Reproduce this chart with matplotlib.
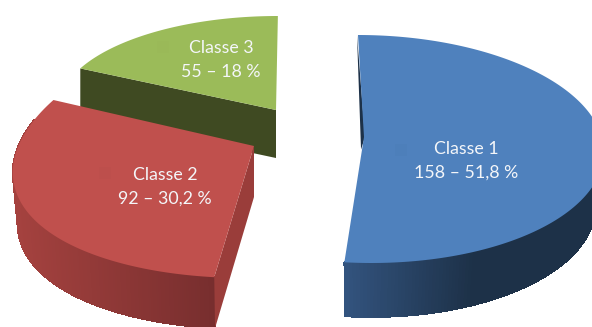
import numpy as np
import matplotlib
matplotlib.use("Agg")
import matplotlib.pyplot as plt
from matplotlib.collections import PolyCollection
from matplotlib.colors import to_rgb

# Pie data
classes = ["Classe 1", "Classe 2", "Classe 3"]
counts = [158, 92, 55]
percent_labels = ["51,8", "30,2", "18"]

# Projection of each exploded slice, in canvas pixels
apex_x = [364, 254, 276]
apex_y = [137, 146, 110]
half_width = [239, 236, 217]
half_height = [114, 125, 91]
centre_drop = [12, 7, -3]
shear = [0.059, -0.073, -0.02]
near_scale = [0.0, 0.1, 0.0]
wall_depth = [54, 51, 48]
wall_shrink = [0.035, 0.02, 0.0]

top_colors = ["#4f81bd", "#c0504d", "#9bbb59"]
wall_left = ["#33547f", "#a5423f", "#3f4a22"]
wall_right = ["#1d3148", "#772e2e", "#3f4a22"]
face_colors = ["#1d3148", "#9a3d3a", "#3f4a22"]
label_x = [466, 165, 221]
label_y = [161, 187, 60]
key_x = [401, 105, 163]
key_y = [150, 173, 47]
key_colors = ["#4d7fba", "#bd4f4c", "#9ab958"]


def project(i, theta):
    """Map clockwise pie angles (degrees from 12 o'clock) to canvas pixels."""
    t = np.radians(theta)
    dy = -half_height[i] * np.cos(t) + centre_drop[i]
    dx = half_width[i] * np.sin(t) * (1 + near_scale[i] * dy / 100) + shear[i] * dy
    return apex_x[i] + dx, apex_y[i] + dy


def lower(i, x, y):
    """Drop a top-surface point to the base of the slice."""
    return apex_x[i] + (x - apex_x[i]) * (1 - wall_shrink[i]), y + wall_depth[i]


fig = plt.figure(figsize=(5.92, 3.27), dpi=100)
ax = fig.add_axes([0, 0, 1, 1])
ax.set_xlim(0, 592)
ax.set_ylim(327, 0)
ax.axis("off")
plt.rcParams["font.family"] = ["Lato", "DejaVu Sans"]

fractions = np.array(counts) / sum(counts) * 360
starts = np.concatenate([[0], np.cumsum(fractions)[:-1]])

# Back slices first so that nearer ones overlap them
for order, i in enumerate([2, 1, 0]):
    theta = np.linspace(starts[i], starts[i] + fractions[i], 220)
    x, y = project(i, theta)
    lx, ly = lower(i, x, y)
    z = 2 + order * 3
    ax0, ay0 = apex_x[i], apex_y[i]

    # Curved outer wall on the camera-facing part of the rim, shaded along its width
    quads, shades = [], []
    xspan = (x.min(), min(x.max(), 592))
    c0, c1 = np.array(to_rgb(wall_left[i])), np.array(to_rgb(wall_right[i]))
    for k in range(len(theta) - 1):
        if not 85 < theta[k] < 285:
            continue
        quads.append([(x[k], y[k]), (x[k + 1], y[k + 1]),
                      (lx[k + 1], ly[k + 1]), (lx[k], ly[k])])
        if i == 0:
            f = np.clip((xspan[0] + 130 - x[k]) / 130, 0, 1)
            shades.append(c1 + (c0 - c1) * f)
        else:
            f = np.clip((x[k] - xspan[0]) / (xspan[1] - xspan[0]), 0, 1)
            shades.append(c0 + (c1 - c0) * f)
    if quads:
        ax.add_collection(PolyCollection(quads, facecolors=shades, edgecolors=shades,
                                         linewidths=0.6, antialiaseds=False, zorder=z))

    # Visible cut face: a thin sliver for the front slice, a full flat side otherwise
    if i == 0:
        nx = ax0 + 0.1 * (x[-1] - ax0)
        ny = ay0 + 0.1 * (y[-1] - ay0)
        ax.fill([x[0] - 1, ax0 + 1, nx - 1], [y[0], ay0, ny], color=face_colors[i],
                lw=0, zorder=z + 1)
    else:
        fx, fy = lower(i, x[0], y[0])
        lax, lay = lower(i, ax0, ay0)
        ax.fill([ax0, x[0], fx, lax], [ay0, y[0], fy, lay], color=face_colors[i],
                lw=0, zorder=z + 1)

    # Top surface
    ax.fill(np.r_[ax0, x], np.r_[ay0, y], color=top_colors[i], lw=0, zorder=z + 2)

    # Faint key square and the label
    ax.plot(key_x[i], key_y[i], marker="s", ms=8, color=key_colors[i], mew=0, zorder=z + 2)
    ax.text(label_x[i], label_y[i], f"{classes[i]}\n{counts[i]} – {percent_labels[i]} %",
            color="#f4f6f9", fontsize=12.8, ha="center", va="center",
            linespacing=1.55, zorder=z + 2)

fig.savefig("out.png", dpi=100)
